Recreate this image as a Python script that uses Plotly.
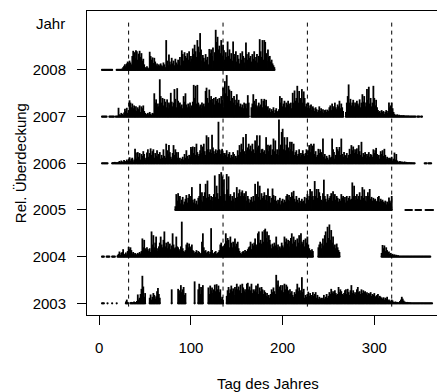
import plotly.graph_objects as go

N = None
years = [2003, 2004, 2005, 2006, 2007, 2008]
year_labels = ["2003", "2004", "2005", "2006", "2007", "2008"]
xticks = [0, 100, 200, 300]
season_days = [32, 135, 227, 319]

# relative coverage per day (percent of row spacing), index 0 = day 1, None = no data
v2008 = ([N, N] + [0] * 12 + [N] * 4 + [0] * 6 +
         [3, 6, 9, 12, 8, 14, 18, 10, 20, 16,
          12, 30, 41, 38, 25, 42, 40, 22, 35, 41,
          28, 36, 20, 24, 12, 6, 4, 8, 5, 3,
          39, 30, 22, 27, 15, 26, 18, 10, 14, 8,
          12, 9, 14, 10, 8, 16, 12, 6, 64, 20,
          10, 33, 18, 12, 26, 14, 20, 10, 24, 16,
          12, 22, 18, 28, 10, 42, 34, 20, 38, 30,
          26, 36, 22, 40, 18, 30, 24, 46, 34, 54,
          40, 28, 64, 50, 38, 79, 44, 20, 32, 26,
          18, 34, 22, 28, 12, 45, 36, 44, 30, 48,
          20, 38, 86, 60, 71, 44, 52, 36, 64, 30,
          54, 42, 22, 38, 28, 61, 30, 44, 24, 36,
          20, 61, 34, 28, 40, 18, 32, 24, 14, 36,
          22, 40, 30, 16, 26, 59, 34, 22, 38, 26,
          30, 18, 34, 24, 40, 20, 28, 34, 16, 30,
          66, 40, 28, 64, 22, 64, 60, 36, 20, 44,
          28, 30, 18, 22, 14, 10, 6])

v2007 = ([N, N] + [0] * 6 + [N, N] + [0] * 6 + [N] + [0] * 3 +
         [19, 5, 4, 8, 6, 3, 9, 17, 12, 19,
          8, 14, 35, 30, 20, 28, 18, 24, 14, 22,
          12, 20, 16, 24, 10, 22, 18, 24, 12, 8,
          6, 4, 8, 5, 10, 6, 4, 8, 7, 50,
          30, 37, 20, 28, 22, 80, 44, 30, 40, 24,
          38, 32, 20, 37, 18, 30, 26, 51, 32, 22,
          30, 59, 38, 20, 61, 34, 28, 30, 22, 26,
          18, 44, 32, 50, 26, 20, 28, 22, 30, 18,
          24, 32, 68, 40, 66, 28, 68, 30, 22, 26,
          18, 30, 24, 28, 22, 55, 62, 40, 30, 58,
          36, 44, 30, 38, 40, 26, 42, 34, 38, 30,
          40, 28, 44, 36, 62, 20, 76, 50, 89, 44,
          66, 58, 34, 55, 40, 30, 44, 36, 25, 48,
          30, 36, 22, 28, 20, 26, 18, 30, 22, 28,
          18, 46, 30, N, N, 20, 28, 48, 34, 26,
          38, 24, 20, 30, 22, 26, 38, 20, 34, 38,
          24, 36, 20, 22, 14, 18, 10, 16, 12, 20,
          8, 14, 18, 10, 12, 16, 44, 30, 40, 22,
          28, 34, 20, 30, 26, 34, 22, 28, 30, 18,
          51, 30, 56, 34, 40, 66, 30, 55, 40, 36,
          59, 30, 54, 40, 22, 28, 20, 30, 18, 24,
          26, 14, 22, 18, 12, 20, 16, 10, 14, 22,
          12, 18, 10, 16, 8, 14, 15, 10, 15, 12,
          20, 24, 14, 28, 18, 22, 30, 20, 16, 26,
          22, 34, 18, 28, 20, 12, N, N, 10, 30,
          44, 69, 30, 38, 24, 30, 36, 22, 30, 26,
          34, 28, 24, 37, 20, 30, 48, 32, 44, 22,
          30, 59, 36, 64, 28, 40, 22, 30, 66, 40,
          24, 36, 20, 14, 10, 12, 8, 14, 10, 12,
          6, 10, 14, 8, 12, 30, 20, 24, 30, 18,
          10, 6, 4, 3, 5, 2, 4, 3, 2, 3,
          2, 3, 2, 1, 2, 1, 2, 0, 1, 0,
          0, 0, 0, 0, 0, N, 0, 0, 0, N,
          0, 0])

v2006 = ([N, N] + [0] * 7 + [N] * 4 +
         [0, 2, 1, 3, 0, 2, 1,
          3, 5, 2, 6, 4, 3, 7, 5, 4, 8,
          5, 8, 13, 6, 10, 12, 4, 8, 31, 23,
          10, 24, 14, 22, 8, 20, 16, 26, 20, 8,
          12, 23, 30, 14, 22, 32, 18, 26, 30, 12,
          22, 16, 28, 14, 20, 24, 10, 18, 12, 30,
          16, 12, 42, 28, 20, 39, 24, 14, 10, 22,
          39, 18, 30, 24, 12, 24, 8, 12, 6, 10,
          14, 8, 20, 12, 28, 16, 10, 18, 14, 35,
          30, 36, 22, 35, 18, 42, 24, 16, 20, 28,
          40, 22, 36, 42, 26, 18, 60, 30, 56, 24,
          30, 22, 61, 34, 26, 20, 30, 22, 28, 89,
          30, 20, 28, 31, 22, 16, 22, 18, 28, 14,
          20, 24, 12, 18, 14, 24, 20, 10, 16, 12,
          28, 18, 39, 24, 42, 30, 56, 26, 20, 63,
          28, 34, 42, 30, 38, 26, 42, 30, 22, 49,
          28, 60, 34, 38, 60, 22, 30, 31, 24, 28,
          20, 56, 30, 40, 26, 38, 40, 18, 30, 53,
          26, 49, 20, 30, 18, 94, 30, 40, 67, 74,
          30, 56, 28, 40, 56, 34, 26, 46, 30, 46,
          26, 42, 18, 24, 28, 16, 20, 30, 14, 22,
          18, 28, 20, 16, 22, 30, 18, 28, 39, 24,
          42, 30, 38, 42, 20, 26, 14, 18, 31, 22,
          30, 24, 18, 53, 14, 20, 10, 16, 12, 8,
          18, 12, 14, 53, 30, 24, 10, 18, 35, 30,
          26, 35, 18, 53, 20, 14, 24, 18, 16, 22,
          12, 18, 31, 20, 39, 28, 36, 22, 30, 24,
          32, 20, 39, 26, 18, 46, 14, 22, 18, 24,
          12, 20, 16, 24, 14, 20, 18, 14, 30, 22,
          28, 33, 20, 14, 18, 10, 26, 20, 28, 16,
          31, 18, 10, 14, 12, 8, 12, 10, 14, 6,
          10, 23, 8, 20, 6, 4, 3, 5, 2, 4,
          3, 2, 4, 1, 3, 2, 1, 2, 1, 1,
          1, 0, 0, 0] + [N] * 10 + [0, 0, 0, N, 0, 0, 0, 0])

v2005 = ([N] * 82 +
         [8, 34, 20, 36, 26, 30, 14, 22, 28, 12,
          18, 24, 32, 16, 26, 34, 22, 30, 49, 22,
          16, 24, 14, 20, 12, 26, 30, 56, 22, 38,
          18, 30, 38, 56, 26, 63, 28, 34, 22, 30,
          28, 20, 34, 74, 28, 52, 36, 24, 77, 30,
          81, 72, 38, 66, 34, 20, 77, 44, 72, 30,
          34, 20, 30, 24, 38, 18, 26, 49, 28, 36,
          44, 30, 38, 42, 30, 36, 28, 40, 20, 30,
          24, 16, 22, 28, 18, 30, 20, 56, 30, 34,
          61, 28, 52, 22, 36, 26, 30, 38, 22, 32,
          20, 46, 30, 30, 16, 26, 46, 32, 22, 30,
          20, 14, 22, 18, 26, 12, 20, 24, 16, 22,
          18, 30, 34, 22, 32, 20, 28, 38, 30, 41,
          24, 18, 30, 22, 16, 26, 20, 14, 24, 18,
          20, 28, 14, 26, 34, 22, 30, 45, 28, 40,
          30, 22, 62, 30, 45, 26, 45, 38, 30, 22,
          20, 36, 65, 30, 24, 18, 34, 22, 26, 30,
          36, 20, 40, 28, 34, 22, 30, 26, 18, 24,
          20, 34, 26, 30, 22, 28, 16, 30, 20, 26,
          30, 22, 24, 59, 30, 52, 22, 30, 34, 24,
          30, 38, 22, 30, 49, 26, 44, 20, 30, 18,
          38, 30, 45, 24, 28, 20, 26, 22, 24, 18,
          20, 28, 30, 18, 24, 20, 22, 18, 16, 20,
          12, 18, 14, 27, 20, 16, 30] +
         [N] * 14 + [0] * 8 + [N] * 3 + [0] * 7 + [N] * 4 + [0] * 9)

v2004 = ([N, N] + [0] * 3 + [N] * 2 + [0] * 4 + [N] * 2 + [0] * 4 + [N] * 2 +
         [3, 6, 11, 4, 8, 10, 16, 6, 4, 9, 5,
          12, 21, 16, 20, 14, 7, 10, 5, 8, 6,
          4, 8, 6, 10, 7, 12, 39, 20, 36, 18,
          14, 20, 16, 12, 18, 10, 54, 26, 46, 20,
          30, 43, 18, 12, 22, 30, 43, 26, 20, 36,
          54, 22, 30, 18, 32, 22, 28, 16, 24, 50,
          26, 18, 20, 43, 22, 20, 16, 12, 22, 75,
          18, 12, 10, 14, 26, 30, 20, 28, 22, 18,
          26, 14, 12, 8, 10, 14, 8, 12, 10, 6,
          8, 32, 50, 20, 12, 14, 8, 10, 12, 6,
          10, 61, 14, 8, 6, 10, 12, 6, 8, 10,
          14, 26, 30, 22, 18, 24, 28, 50, 34, 40,
          36, 20, 43, 30, 20, 32, 26, 39, 22, 28,
          32, 18, 12, 8, 6, 10, 12, 8, 14, 10,
          12, 16, 20, 22, 32, 16, 28, 24, 30, 39,
          22, 26, 50, 54, 30, 36, 28, 54, 32, 57,
          60, 40, 54, 32, 46, 36, 26, 18, 28, 22,
          30, 24, 43, 20, 26, 14, 22, 18, 30, 24,
          20, 43, 32, 39, 28, 36, 34, 22, 40, 50,
          28, 43, 32, 36, 22, 39, 30, 46, 26, 50,
          32, 28, 36, 22, 39, 30, 43, 26, 18, 14,
          10, 16, 12] + [N] * 5 +
         [20, 26, 32, 18, 28, 39, 24, 46, 54, 30, 64, 40,
          69, 36, 57, 30, 43, 22, 26, 18, 28, 20, 14, 10] + [N] * 45 +
         [8, 25, 18, 24, 12, 20, 14, 10, 11, 6, 8, 4, 6,
          3, 5, 2, 4, 2, 3, 1] + [0] * 34)

v2003 = ([N, N] + [0] * 3 + [N] * 3 + [0] + [N] * 4 + [0] + [N] * 4 + [0] + [N] * 9 +
         [4, 8, 3] + [N] * 2 +
         [2, 3, 1, 2, 4, 3, 2, 5,
          19, 8, 12, 20, 31, 59, 36, 14, 22] + [N] * 4 +
         [12, 19, 8, 14, 22, 18, 10, 15, 26, 33, 20, 12] + [N] * 12 +
         [30] + [N] * 6 +
         [31, 20, 28, 39, 24, 30, 35, 18, 22] + [N] * 9 +
         [47] + [N] * 3 +
         [30, 42, 20, 35, 28, 39] + [N] * 5 +
         [34, 20, 38, 28, 34, 22, 30, 40, 26, 41, 30, 38, 24, 30,
          10, 14, 8, N, N, N, 16,
          28, 35, 22, 30, 38, 26, 32, 18, 35, 30,
          42, 30, 36, 28, 40, 22, 42, 34, 26, 30,
          24, 42, 44, 30, 36, 28, 42, 22, 30, 26,
          30, 38, 24, 42, 20, 34, 26, 35, 30, 20,
          28, 24, 16, 22, 14, 18, 12, 20, 30, 24,
          34, 26, 20, 61, 40, 49, 30, 36, 39, 28,
          39, 24, 42, 30, 40, 36, 28, 20, 30, 22,
          26, 18, 14, 24, 20, 30, 42, 26, 34, 22,
          28, 56, 24, 31, 12, 18, 14, 20, 25, 16,
          22, 18, 14, 24, 16, 20, 24, 12, 18, 10,
          14, 10, 12, 8, 12, 18, 10, 14, 20, 12,
          16, 24, 20, 31, 22, 26, 20, 28, 22, 18,
          20, 35, 24, 30, 26, 20, 18, 22, 28, 30,
          20, 31, 24, 18, 28, 39, 22, 28, 20, 24,
          18, 30, 35, 24, 26, 20, 30, 22, 28, 24,
          26, 20, 24, 18, 22, 20, 24, 16, 20, 18,
          22, 14, 16, 18, 20, 12, 16, 14, 12, 10,
          13, 8, 12, 10, 14, 6, 8, 6, 4, 8,
          6, 3, 2, 4, 2, 3, 1, 2, 5, 8,
          14, 10, 6, 4, 3, 2, 3, 2, 1, 2] + [0] * 24)

series = {2003: v2003, 2004: v2004, 2005: v2005, 2006: v2006, 2007: v2007, 2008: v2008}

FONT = "Liberation Sans, Arial, Helvetica, sans-serif"
fig = go.Figure()

for yr, vals in series.items():
    xs, ys, bx, by = [], [], [], []
    for i, v in enumerate(vals):
        if v is None:
            continue
        day = i + 1
        bx.append(day)
        by.append(yr)
        if v > 0:
            xs += [day, day, None]
            ys += [yr, yr + v / 100.0, None]
    fig.add_trace(go.Scatter(x=xs, y=ys, mode="lines",
                             line=dict(color="black", width=1.8),
                             hoverinfo="skip", showlegend=False))
    fig.add_trace(go.Scatter(x=bx, y=by, mode="markers",
                             marker=dict(color="black", size=2.2, line=dict(width=0)),
                             hoverinfo="skip", showlegend=False))

for d in season_days:
    fig.add_trace(go.Scatter(x=[d, d], y=[2002.93, 2009.03], mode="lines",
                             line=dict(color="black", width=1, dash="4px,4px"),
                             hoverinfo="skip", showlegend=False))

fig.update_layout(
    width=437, height=392,
    margin=dict(l=87, r=0, t=11, b=77),
    paper_bgcolor="white", plot_bgcolor="white",
    font=dict(family=FONT, size=15, color="black"),
    showlegend=False,
    xaxis=dict(range=[-13.4, 368.4], tickvals=xticks, ticktext=[str(t) for t in xticks],
               ticks="outside", ticklen=9, tickwidth=1, tickcolor="black",
               showline=True, linecolor="black", linewidth=1, mirror=True,
               showgrid=False, zeroline=False, ticklabelstandoff=10,
               tickfont=dict(family=FONT, size=15, color="black")),
    yaxis=dict(range=[2002.75, 2009.263], tickvals=years, ticktext=year_labels,
               ticks="outside", ticklen=9, tickwidth=1, tickcolor="black",
               showline=True, linecolor="black", linewidth=1, mirror=False,
               showgrid=False, zeroline=False, ticklabelstandoff=8,
               tickfont=dict(family=FONT, size=15, color="black")),
    annotations=[
        dict(text="Jahr", xref="paper", yref="y", x=-0.058, y=2009,
             xanchor="right", yanchor="middle", showarrow=False,
             font=dict(family=FONT, size=15, color="black")),
        dict(text="Tag des Jahres", xref="paper", yref="paper", x=0.516, y=-0.2237,
             xanchor="center", yanchor="middle", showarrow=False,
             font=dict(family=FONT, size=15, color="black")),
        dict(text="Rel. Überdeckung", xref="paper", yref="paper", x=-0.191, y=0.5,
             xanchor="center", yanchor="middle", textangle=-90, showarrow=False,
             font=dict(family=FONT, size=15, color="black")),
    ],
)

fig.write_html("out.html")
